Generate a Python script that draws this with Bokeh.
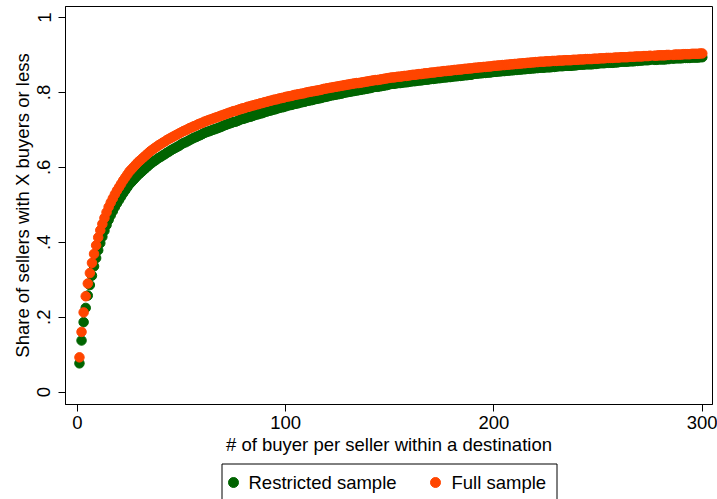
from bokeh.plotting import figure
from bokeh.layouts import column
from bokeh.models import Range1d, FixedTicker, ColumnDataSource
from bokeh.core.properties import value
from bokeh.embed import file_html
from bokeh.resources import INLINE

# x: number of buyers per seller (integers; 276 and 285 absent)
buyers = [v for v in range(1, 301) if v not in (276, 285)]

full_sample = [
    .093, .161, .213, .256, .290, .318, .345, .369, .392, .413,
    .432, .449, .465, .480, .494, .506, .517, .528, .538, .547,
    .556, .565, .573, .581, .589, .595, .601, .607, .613, .618,
    .623, .628, .633, .638, .643, .647, .651, .655, .659, .662,
    .666, .669, .673, .676, .679, .682, .685, .688, .691, .694,
    .697, .699, .702, .705, .707, .710, .712, .715, .717, .719,
    .722, .724, .726, .728, .730, .732, .734, .736, .738, .740,
    .742, .744, .746, .748, .750, .751, .753, .755, .757, .758,
    .760, .762, .763, .765, .766, .768, .769, .771, .772, .774,
    .775, .777, .778, .780, .781, .782, .784, .785, .786, .788,
    .789, .790, .791, .793, .794, .795, .796, .797, .798, .800,
    .801, .802, .803, .804, .805, .806, .807, .809, .810, .811,
    .812, .813, .814, .815, .816, .817, .818, .819, .820, .821,
    .822, .823, .824, .825, .825, .826, .827, .828, .829, .830,
    .831, .832, .833, .833, .834, .835, .836, .837, .838, .839,
    .840, .840, .841, .842, .842, .843, .844, .844, .845, .846,
    .847, .847, .848, .849, .849, .850, .851, .851, .852, .853,
    .853, .854, .855, .855, .856, .857, .857, .858, .858, .859,
    .860, .860, .861, .861, .862, .863, .863, .864, .864, .865,
    .866, .866, .867, .867, .868, .868, .869, .869, .870, .871,
    .871, .872, .872, .873, .873, .874, .874, .875, .875, .876,
    .876, .877, .877, .878, .878, .879, .879, .880, .880, .881,
    .881, .882, .882, .882, .883, .883, .883, .884, .884, .884,
    .885, .885, .885, .886, .886, .886, .886, .887, .887, .887,
    .888, .888, .888, .889, .889, .889, .889, .890, .890, .890,
    .891, .891, .891, .892, .892, .892, .892, .893, .893, .893,
    .894, .894, .894, .894, .895, .895, .895, .896, .896, .896,
    .896, .897, .897, .897, .898, .898, .898, .899, .899,
    .899, .899, .900, .900, .900, .901, .901, .901, .901,
    .902, .902, .902, .902, .903, .903, .903, .903, .904, .904,
]

restricted_sample = [
    .077, .138, .187, .225, .258, .286, .311, .336, .358, .379,
    .398, .415, .431, .446, .460, .472, .483, .494, .504, .513,
    .522, .531, .539, .547, .555, .561, .567, .573, .579, .584,
    .589, .594, .599, .604, .609, .613, .617, .621, .625, .628,
    .632, .635, .639, .642, .646, .649, .652, .655, .658, .662,
    .665, .667, .670, .673, .676, .679, .681, .684, .686, .689,
    .692, .694, .696, .698, .700, .702, .704, .706, .708, .711,
    .713, .715, .717, .719, .721, .722, .724, .727, .729, .730,
    .732, .734, .735, .737, .739, .741, .742, .744, .745, .748,
    .749, .751, .752, .754, .755, .757, .759, .760, .761, .763,
    .765, .766, .767, .769, .770, .771, .773, .774, .775, .777,
    .778, .779, .780, .782, .783, .784, .785, .787, .788, .789,
    .791, .792, .793, .794, .795, .796, .797, .799, .800, .801,
    .802, .803, .804, .805, .806, .807, .808, .809, .810, .811,
    .812, .814, .815, .815, .816, .817, .818, .819, .820, .822,
    .823, .823, .824, .825, .825, .826, .827, .827, .828, .829,
    .830, .830, .831, .832, .832, .833, .834, .834, .835, .836,
    .836, .837, .838, .838, .839, .840, .840, .841, .841, .842,
    .843, .843, .844, .844, .845, .846, .846, .847, .847, .849,
    .850, .850, .851, .851, .852, .852, .853, .853, .854, .855,
    .855, .856, .856, .857, .857, .858, .858, .859, .859, .860,
    .860, .861, .861, .862, .862, .863, .863, .864, .864, .865,
    .865, .866, .866, .866, .867, .867, .867, .868, .868, .869,
    .870, .870, .870, .871, .871, .871, .871, .872, .872, .873,
    .874, .874, .874, .875, .875, .875, .875, .876, .876, .877,
    .878, .878, .878, .879, .879, .879, .879, .880, .880, .881,
    .882, .882, .882, .882, .883, .883, .883, .884, .884, .885,
    .885, .886, .886, .886, .887, .887, .887, .888, .888,
    .888, .888, .889, .889, .890, .891, .891, .891, .891,
    .892, .892, .892, .892, .893, .893, .893, .893, .894, .894,
]

x_ticks = [0, 100, 200, 300]
y_ticks = [0, 0.2, 0.4, 0.6, 0.8, 1]
y_tick_labels = ["0", ".2", ".4", ".6", ".8", "1"]
series_labels = ["Restricted sample", "Full sample"]
series_colors = ["#006400", "#FF4500"]

FONT = "Liberation Sans"
FS = "18.5px"
FRAME_L, FRAME_R = 65, 712

# ---- main plot ----
p = figure(width=717, height=458, output_backend="svg", toolbar_location=None,
           x_range=Range1d(-5.7, 304.9), y_range=Range1d(-0.0328, 1.0293),
           min_border_left=FRAME_L, min_border_right=717 - FRAME_R,
           min_border_top=6, min_border_bottom=54)
p.grid.visible = False
p.background_fill_color = "white"
p.border_fill_color = "white"
p.outline_line_color = "black"
p.outline_line_width = 1
p.outline_line_alpha = 1

src_r = ColumnDataSource(dict(x=buyers, y=restricted_sample))
src_f = ColumnDataSource(dict(x=buyers, y=full_sample))
p.scatter("x", "y", source=src_r, size=9.5, marker="circle",
          fill_color=series_colors[0], line_color=series_colors[0])
p.scatter("x", "y", source=src_f, size=9.5, marker="circle",
          fill_color=series_colors[1], line_color=series_colors[1])

for ax in (p.xaxis[0], p.yaxis[0]):
    ax.axis_line_color = "black"
    ax.major_tick_line_color = "black"
    ax.major_tick_out = 7
    ax.major_tick_in = 0
    ax.minor_tick_out = 0
    ax.minor_tick_in = 0
    ax.major_label_text_font = FONT
    ax.major_label_text_font_size = FS
    ax.major_label_text_color = "black"
    ax.axis_label_text_font = FONT
    ax.axis_label_text_font_size = FS
    ax.axis_label_text_font_style = "normal"
    ax.axis_label_text_color = "black"

p.xaxis.ticker = FixedTicker(ticks=x_ticks)
p.xaxis.axis_label = "# of buyer per seller within a destination"
p.xaxis.major_label_standoff = 4
p.xaxis.axis_label_standoff = 2

p.yaxis.ticker = FixedTicker(ticks=y_ticks)
p.yaxis.major_label_overrides = {t: l for t, l in zip(y_ticks, y_tick_labels)}
p.yaxis.major_label_orientation = "vertical"
p.yaxis.axis_label = "Share of sellers with X buyers or less"
p.yaxis.major_label_standoff = 8
p.yaxis.axis_label_standoff = 2

# ---- legend strip (pixel coordinates, y downward) ----
LH = 41
lg = figure(width=717, height=LH, output_backend="svg", toolbar_location=None,
            x_range=Range1d(FRAME_L, FRAME_R), y_range=Range1d(LH, 0),
            x_axis_location=None, y_axis_location=None,
            min_border_left=FRAME_L, min_border_right=717 - FRAME_R,
            min_border_top=0, min_border_bottom=0)
lg.grid.visible = False
lg.outline_line_color = None
lg.background_fill_color = "white"
lg.border_fill_color = "white"

lg.quad(left=[221.5], right=[556.5], top=[5.5], bottom=[LH + 5],
        fill_color="white", line_color="black", line_width=1)
key_x = [233, 435]
label_x = [248, 451]
key_y = 24
lg.scatter(x=key_x, y=[key_y, key_y], size=10, marker="circle",
           fill_color=series_colors, line_color=series_colors)
lg.text(x=label_x, y=[key_y, key_y], text=series_labels,
        text_font=value(FONT), text_font_size=FS, text_color="black",
        text_baseline="middle", text_align="left")

layout = column(p, lg, spacing=0)
open("out.html", "w").write(file_html(layout, INLINE))
